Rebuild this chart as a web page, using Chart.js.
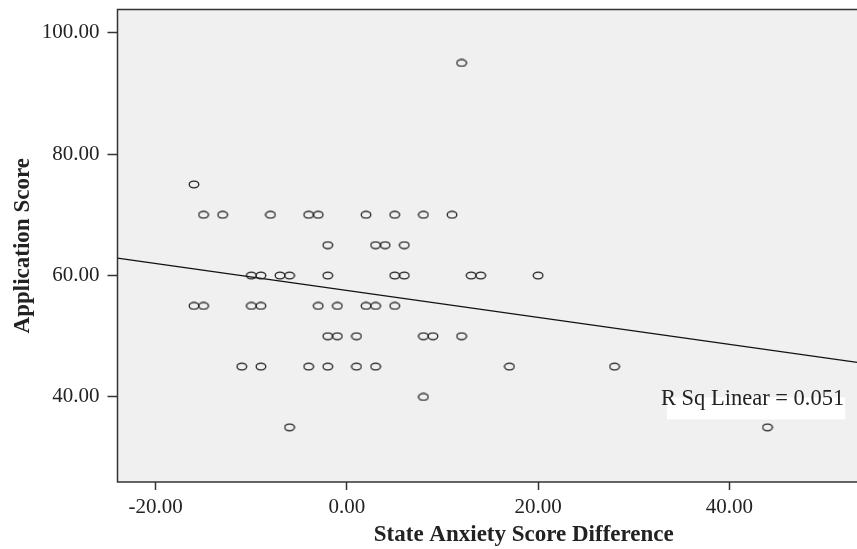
<!DOCTYPE html>
<html>
<head>
<meta charset="utf-8">
<script src="https://cdn.jsdelivr.net/npm/chart.js@4/dist/chart.umd.min.js"></script>
<style>
  html, body { margin: 0; padding: 0; background: #ffffff; overflow: hidden; }
  #wrap { width: 857px; height: 549px; overflow: hidden; }
  canvas { display: block; }
</style>
</head>
<body>
<div id="wrap"><canvas id="c" width="936" height="549"></canvas></div>
<script>
// ---- Data ----
const stateAnxietyDiff = [
  -16,
  -15, -13, -8, -4, -3, 2, 5, 8, 11,
  -2, 3, 4, 6,
  -10, -9, -7, -6, -2, 5, 6, 13, 14, 20,
  -16, -15, -10, -9, -3, -1, 2, 3, 5,
  -2, -1, 1, 8, 9, 12,
  -11, -9, -4, -2, 1, 3, 17, 28,
  8,
  -6, 44,
  12
];
const applicationScore = [
  75,
  70, 70, 70, 70, 70, 70, 70, 70, 70,
  65, 65, 65, 65,
  60, 60, 60, 60, 60, 60, 60, 60, 60, 60,
  55, 55, 55, 55, 55, 55, 55, 55, 55,
  50, 50, 50, 50, 50, 50,
  45, 45, 45, 45, 45, 45, 45, 45,
  40,
  35, 35,
  95
];
// Linear fit line
const fitIntercept = 57.54;
const fitSlope = -0.2217;
const rSqLabel = 'R Sq Linear = 0.051';
const rSqPos = [32.85, 39.6];

// Axis setup
const xRange = [-24, 61];
const yRange = [26, 103.8];
const xTicks = [-20, 0, 20, 40];
const yTicks = [40, 60, 80, 100];
const xTitle = 'State Anxiety Score Difference';
const yTitle = 'Application Score';

// ---- Build ----
const points = stateAnxietyDiff.map((x, i) => ({ x: x, y: applicationScore[i] }));
const fitLine = xRange.map(x => ({ x: x, y: fitIntercept + fitSlope * x }));

// ellipse marker
const marker = document.createElement('canvas');
marker.width = 12; marker.height = 9;
(function () {
  const m = marker.getContext('2d');
  m.strokeStyle = '#222';
  m.lineWidth = 1.3;
  m.beginPath();
  m.ellipse(6, 4.5, 4.8, 3.4, 0, 0, Math.PI * 2);
  m.stroke();
})();

const frame = {
  id: 'frame',
  beforeDatasetsDraw(chart) {
    const { ctx, chartArea: a } = chart;
    ctx.save();
    ctx.fillStyle = '#f0f0f0';
    ctx.fillRect(a.left, a.top, a.right - a.left, a.bottom - a.top);
    ctx.strokeStyle = '#333';
    ctx.lineWidth = 1.5;
    ctx.beginPath();
    ctx.moveTo(a.right, a.top);
    ctx.lineTo(a.left, a.top);
    ctx.lineTo(a.left, a.bottom);
    ctx.lineTo(a.right, a.bottom);
    ctx.stroke();
    ctx.restore();
  },
  afterDatasetsDraw(chart) {
    const { ctx } = chart;
    const px = chart.scales.x.getPixelForValue(rSqPos[0]);
    const py = chart.scales.y.getPixelForValue(rSqPos[1]);
    ctx.save();
    ctx.font = '22.5px "Liberation Serif", "Times New Roman", serif';
    const w = ctx.measureText(rSqLabel).width;
    ctx.fillStyle = '#ffffff';
    ctx.fillRect(px + 6, py - 2, w - 5, 22);
    ctx.fillStyle = '#222';
    ctx.textBaseline = 'middle';
    ctx.textAlign = 'left';
    ctx.fillText(rSqLabel, px, py);
    ctx.restore();
  }
};

const tickFont = { family: '"Liberation Serif", "Times New Roman", serif', size: 21 };
const titleFont = { family: '"Liberation Serif", "Times New Roman", serif', size: 23, weight: 'bold' };

new Chart(document.getElementById('c'), {
  type: 'scatter',
  data: {
    datasets: [
      {
        label: 'Fit',
        type: 'line',
        data: fitLine,
        borderColor: '#111',
        borderWidth: 1.2,
        pointRadius: 0,
        fill: false,
        order: 2
      },
      {
        label: 'Scores',
        data: points,
        pointStyle: marker,
        pointRadius: 5,
        order: 1
      }
    ]
  },
  plugins: [frame],
  options: {
    responsive: false,
    devicePixelRatio: 1,
    animation: false,
    layout: { padding: { top: 9.5, left: 0, right: 0, bottom: 0 } },
    plugins: { legend: { display: false }, tooltip: { enabled: false } },
    scales: {
      x: {
        type: 'linear',
        min: xRange[0],
        max: xRange[1],
        afterBuildTicks: s => { s.ticks = xTicks.map(v => ({ value: v })); },
        afterFit: s => { s.height = 67; s.paddingLeft = 0; s.paddingRight = 0; },
        border: { display: false },
        grid: { display: true, drawOnChartArea: false, drawTicks: true, tickLength: 8, tickColor: '#333', tickWidth: 1.5 },
        ticks: { font: tickFont, color: '#222', padding: 5, maxRotation: 0, callback: v => v.toFixed(2) },
        title: { display: true, text: xTitle, font: titleFont, color: '#222', padding: { top: 0, bottom: 0 } }
      },
      y: {
        type: 'linear',
        min: yRange[0],
        max: yRange[1],
        afterBuildTicks: s => { s.ticks = yTicks.map(v => ({ value: v })); },
        afterFit: s => { s.width = 117.5; s.paddingTop = 0; s.paddingBottom = 0; },
        border: { display: false },
        grid: { display: true, drawOnChartArea: false, drawTicks: true, tickLength: 10, tickColor: '#333', tickWidth: 1.5 },
        ticks: { font: tickFont, color: '#222', padding: 8, callback: v => v.toFixed(2) },
        title: { display: true, text: yTitle, font: titleFont, color: '#222', padding: { top: 9, bottom: 0 } }
      }
    }
  }
});
</script>
</body>
</html>
